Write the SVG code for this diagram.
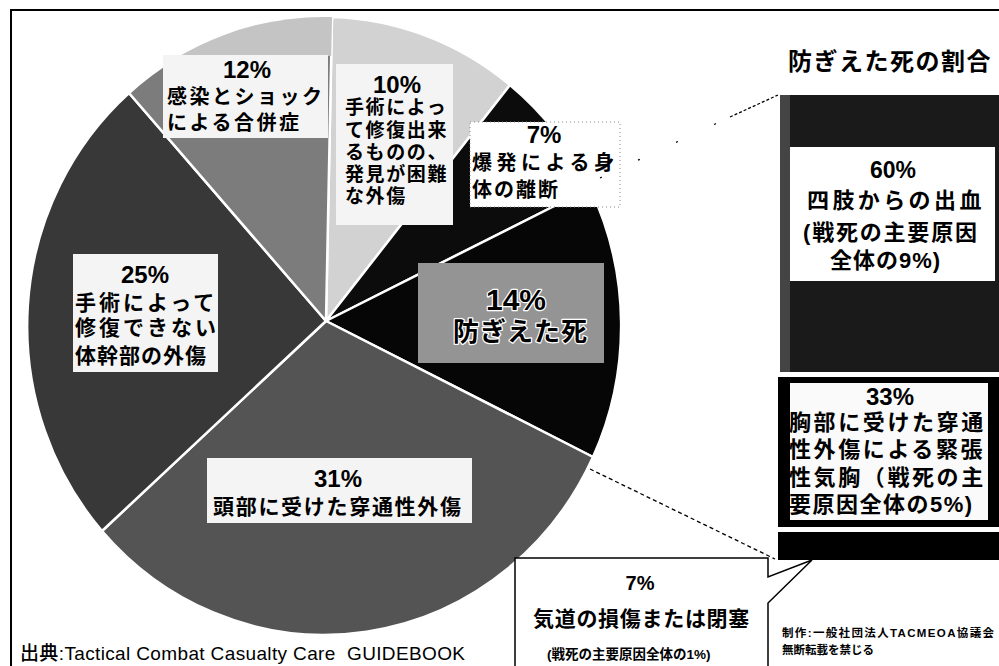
<svg xmlns="http://www.w3.org/2000/svg" width="999" height="666" viewBox="0 0 999 666">
<style>
.t{font-family:"Liberation Sans","Noto Sans CJK JP",sans-serif;font-weight:bold;fill:#000}
.sl{stroke:#fff;stroke-width:2.5;stroke-linejoin:round}
.box{fill:#f4f4f4}
.halo{stroke:#fff;stroke-width:2.5;paint-order:stroke;stroke-linejoin:round}
</style>
<defs>
<clipPath id="c12"><path d="M326 321 L129 93 A297 309 0 0 1 332 17 Z"/></clipPath>
</defs>
<rect width="999" height="666" fill="#fff"/>
<g id="frame" fill="none" stroke="#000" stroke-width="2">
<path d="M11 666 L11 10 L999 10"/>
</g>
<g id="pie">
<g id="slice-10"><path class="sl" d="M326 321 L332 17 A297 309 0 0 1 510 85 Z" fill="#d2d2d2"/></g>
<g id="slice-7"><path class="sl" d="M326 321 L510 85 A297 309 0 0 1 590 188 Z" fill="#0c0c0c"/></g>
<g id="slice-14"><path class="sl" d="M326 321 L590 188 A297 309 0 0 1 593 457 Z" fill="#060606"/></g>
<g id="slice-31"><path class="sl" d="M326 321 L593 457 A297 309 0 0 1 102 531 Z" fill="#545454"/></g>
<g id="slice-25"><path class="sl" d="M326 321 L102 531 A297 309 0 0 1 129 93 Z" fill="#383838"/></g>
<g id="slice-12"><path class="sl" d="M326 321 L129 93 A297 309 0 0 1 332 17 Z" fill="#7c7c7c"/>
<rect x="100" y="0" width="240" height="56" fill="#c4c4c4" clip-path="url(#c12)"/></g>
</g>
<g id="label-12">
<rect class="box" x="163" y="55" width="165" height="83"/>
<text class="t" x="247" y="78" font-size="24" text-anchor="middle">12%</text>
<text class="t" x="167" y="104" font-size="20" letter-spacing="2.5">感染とショック</text>
<text class="t" x="167" y="130" font-size="20" letter-spacing="2.5">による合併症</text>
</g>
<g id="label-10">
<rect class="box" x="336" y="64" width="117" height="161"/>
<text class="t" x="397" y="93" font-size="24" text-anchor="middle">10%</text>
<text class="t" x="345" y="114" font-size="19" letter-spacing="1.6">手術によっ</text>
<text class="t" x="345" y="137" font-size="19" letter-spacing="1.6">て修復出来</text>
<text class="t" x="345" y="159" font-size="19" letter-spacing="1.6">るものの、</text>
<text class="t" x="345" y="181" font-size="19" letter-spacing="1.6">発見が困難</text>
<text class="t" x="345" y="203" font-size="19" letter-spacing="1.6">な外傷</text>
</g>
<g id="label-7">
<rect x="470" y="122" width="150" height="85" fill="#fff" stroke="#888" stroke-width="1" stroke-dasharray="1 3"/>
<text class="t" x="544" y="143" font-size="24" text-anchor="middle">7%</text>
<text class="t" x="472" y="170" font-size="20" letter-spacing="4.5">爆発による身</text>
<text class="t" x="472" y="197" font-size="20" letter-spacing="2">体の離断</text>
</g>
<g id="label-25">
<rect class="box" x="73" y="254" width="145" height="118"/>
<text class="t" x="145" y="283" font-size="24" text-anchor="middle">25%</text>
<text class="t" x="75" y="310" font-size="21" letter-spacing="3">手術によって</text>
<text class="t" x="75" y="335" font-size="21" letter-spacing="3">修復できない</text>
<text class="t" x="75" y="363" font-size="21" letter-spacing="1">体幹部の外傷</text>
</g>
<g id="label-14">
<rect x="418" y="263" width="186" height="100" fill="#949494"/>
<text class="t halo" x="516" y="310" font-size="30" text-anchor="middle">14%</text>
<text class="t halo" x="453" y="341" font-size="26" letter-spacing="1">防ぎえた死</text>
</g>
<g id="label-31">
<rect class="box" x="207" y="458" width="265" height="65"/>
<text class="t" x="338" y="487" font-size="24" text-anchor="middle">31%</text>
<text class="t" x="213" y="514" font-size="21" letter-spacing="1.7">頭部に受けた穿通性外傷</text>
</g>
<g id="connectors" fill="none" stroke="#000" stroke-width="1.3">
<line x1="600" y1="178" x2="730" y2="117" stroke-dasharray="2 40"/>
<line x1="730" y1="117" x2="778" y2="95" stroke-dasharray="3 2"/>
<line x1="590" y1="469" x2="775" y2="559" stroke-dasharray="4 3"/>
</g>
<g id="title">
<text class="t" x="788" y="70" font-size="24" letter-spacing="1.5">防ぎえた死の割合</text>
</g>
<g id="bar-60">
<rect x="780" y="95" width="219" height="277" fill="#1a1a1a"/>
<rect x="780" y="95" width="10" height="277" fill="#444"/>
<rect x="790" y="147" width="205" height="134" fill="#fff"/>
<text class="t" x="893" y="178" font-size="23" text-anchor="middle">60%</text>
<text class="t" x="807" y="208" font-size="22" letter-spacing="3.4">四肢からの出血</text>
<text class="t" x="803" y="240" font-size="22" letter-spacing="1.8">(戦死の主要原因</text>
<text class="t" x="830" y="268" font-size="22" letter-spacing="1">全体の9%)</text>
</g>
<g id="bar-33">
<rect x="778" y="377" width="221" height="150" fill="#000"/>
<rect x="790" y="383" width="198" height="137" fill="#fafafa"/>
<text class="t" x="890" y="405" font-size="24" text-anchor="middle">33%</text>
<text class="t" x="789" y="430" font-size="22" letter-spacing="2.6">胸部に受けた穿通</text>
<text class="t" x="789" y="457" font-size="22" letter-spacing="2.6">性外傷による緊張</text>
<text class="t" x="789" y="485" font-size="22" letter-spacing="2.6">性気胸（戦死の主</text>
<text class="t" x="789" y="512" font-size="22" letter-spacing="1.5">要原因全体の5%)</text>
</g>
<g id="bar-7">
<rect x="778" y="532" width="221" height="28" fill="#000"/>
</g>
<g id="callout-7">
<path d="M515 666 L515 558 L768 558 L768 577 L812 560 L768 603 L768 666" fill="#fff" stroke="#000" stroke-width="1.5"/>
<text class="t" x="640" y="590" font-size="20" text-anchor="middle">7%</text>
<text class="t" x="533" y="626" font-size="21" letter-spacing="0.7">気道の損傷または閉塞</text>
<text class="t" x="547" y="659" font-size="13.5">(戦死の主要原因全体の1%)</text>
</g>
<g id="source">
<text class="t" x="20" y="660" font-size="19" style="font-weight:500;white-space:pre" textLength="445" lengthAdjust="spacing">出典:Tactical Combat Casualty Care  GUIDEBOOK</text>
</g>
<g id="credit">
<text class="t" x="782" y="637" font-size="11.5" textLength="212" lengthAdjust="spacing">制作:一般社団法人TACMEOA協議会</text>
<text class="t" x="782" y="654" font-size="11.5">無断転載を禁じる</text>
</g>
</svg>
